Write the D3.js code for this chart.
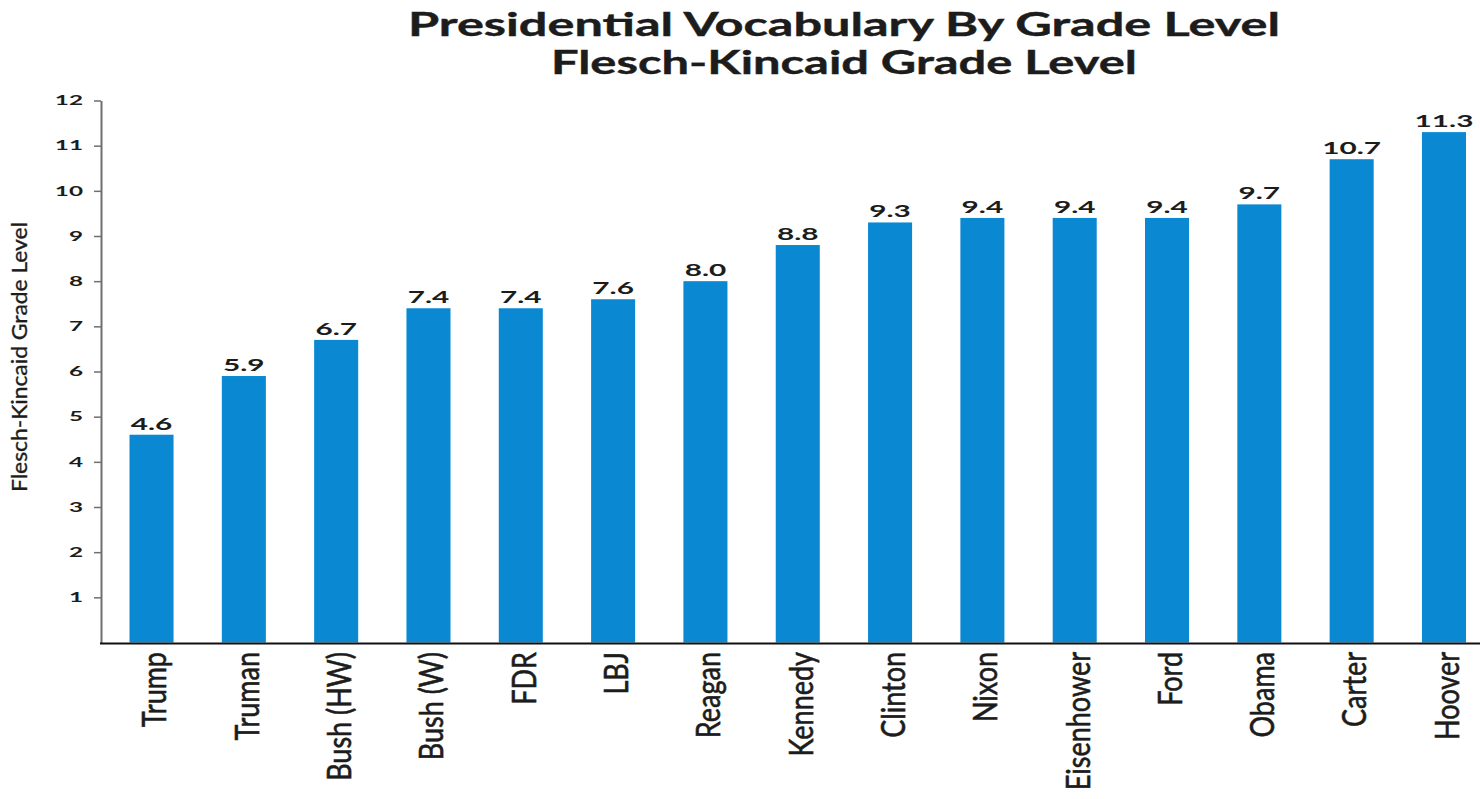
<!DOCTYPE html>
<html>
<head>
<meta charset="utf-8">
<script src="https://cdn.jsdelivr.net/npm/d3@7"></script>
<style>
  html, body { margin: 0; padding: 0; background: #fff; }
  svg { display: block; }
</style>
</head>
<body>
<svg id="chart" width="1480" height="799"></svg>
<script>
// Flesch-Kincaid grade level of each president's vocabulary
const presidents = ["Trump", "Truman", "Bush (HW)", "Bush (W)", "FDR", "LBJ", "Reagan",
  "Kennedy", "Clinton", "Nixon", "Eisenhower", "Ford", "Obama", "Carter", "Hoover"];
const gradeLevels = [4.6, 5.9, 6.7, 7.4, 7.4, 7.6, 8.0, 8.8, 9.3, 9.4, 9.4, 9.4, 9.7, 10.7, 11.3];
const yTickValues = [1, 2, 3, 4, 5, 6, 7, 8, 9, 10, 11, 12];
const titleLines = ["Presidential Vocabulary By Grade Level", "Flesch-Kincaid Grade Level"];
const yAxisTitle = "Flesch-Kincaid Grade Level";

const svg = d3.select("#chart");
const BAR = "#0a89d2";
const INK = "#1c1c1c";

const x = d3.scaleBand()
  .domain(presidents)
  .range([102, 1493.5])
  .paddingInner(0.523)
  .paddingOuter(0.298);

const y = d3.scaleLinear()
  .domain([0, 12])
  .range([642.5, 100.5]);

// Title
svg.append("g").selectAll("text")
  .data(titleLines)
  .join("text")
  .attr("x", 844)
  .attr("y", (d, i) => i === 0 ? 36 : 74)
  .attr("text-anchor", "middle")
  .attr("font-family", "Lato, 'Open Sans', sans-serif")
  .attr("font-weight", 700)
  .attr("font-size", 32)
  .attr("fill", INK)
  .attr("stroke", INK)
  .attr("stroke-width", 0.4)
  .attr("textLength", (d, i) => i === 0 ? 872 : 586)
  .attr("lengthAdjust", "spacingAndGlyphs")
  .text(d => d);

// Bars
svg.append("g").selectAll("rect")
  .data(gradeLevels)
  .join("rect")
  .attr("x", (d, i) => x(presidents[i]))
  .attr("width", x.bandwidth())
  .attr("y", d => y(d))
  .attr("height", d => y(0) - y(d))
  .attr("fill", BAR);

// Value labels above bars
svg.append("g").selectAll("text")
  .data(gradeLevels)
  .join("text")
  .attr("transform", (d, i) =>
    `translate(${x(presidents[i]) + x.bandwidth() / 2},${y(d) - 5}) scale(1.7,1)`)
  .attr("text-anchor", "middle")
  .attr("font-family", "Lato, 'Open Sans', sans-serif")
  .attr("font-weight", 700)
  .attr("font-size", 17.5)
  .attr("fill", INK)
  .text(d => d.toFixed(1));

// Y axis
const yAxis = svg.append("g")
  .attr("transform", "translate(101,0)")
  .call(d3.axisLeft(y).tickValues(yTickValues).tickSize(7).tickSizeOuter(0).tickFormat(d3.format("d")));
yAxis.select(".domain").attr("stroke", "#6f6f6f").attr("stroke-width", 2);
yAxis.selectAll(".tick line").attr("stroke", "#6f6f6f").attr("stroke-width", 1.5);
yAxis.selectAll(".tick text")
  .attr("x", null)
  .attr("transform", "translate(-18,0) scale(1.8,1)")
  .attr("font-family", "Lato, 'Open Sans', sans-serif")
  .attr("font-weight", 700)
  .attr("font-size", 13.5)
  .attr("fill", INK);

// X axis baseline
svg.append("line")
  .attr("x1", 100).attr("x2", 1480)
  .attr("y1", y(0) + 1).attr("y2", y(0) + 1)
  .attr("stroke", "#111")
  .attr("stroke-width", 2);

// Category labels, rotated and widened across the glyph height
svg.append("g").selectAll("text")
  .data(presidents)
  .join("text")
  .attr("transform", d => `translate(${x(d) + x.bandwidth() / 2 + 3},652) rotate(-90) scale(1,1.25)`)
  .attr("text-anchor", "end")
  .attr("dy", "0.35em")
  .attr("font-family", "Lato, 'Open Sans', sans-serif")
  .attr("font-size", 27)
  .attr("fill", INK)
  .attr("stroke", INK)
  .attr("stroke-width", 0.5)
  .text(d => d);

// Y axis title
svg.append("text")
  .attr("transform", "translate(27,357) rotate(-90) scale(1,1.15)")
  .attr("text-anchor", "middle")
  .attr("font-family", "Lato, 'Open Sans', sans-serif")
  .attr("font-size", 18)
  .attr("fill", INK)
  .attr("stroke", INK)
  .attr("stroke-width", 0.3)
  .attr("textLength", 270)
  .attr("lengthAdjust", "spacingAndGlyphs")
  .text(yAxisTitle);
</script>
</body>
</html>
